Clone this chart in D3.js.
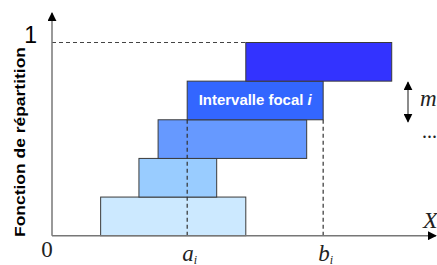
<!DOCTYPE html>
<html>
<head>
<meta charset="utf-8">
<script src="https://cdn.jsdelivr.net/npm/d3@7"></script>
<style>
  body { margin: 0; background: #fff; }
  svg { display: block; }
</style>
</head>
<body>
<div id="chart"></div>
<script>
// focal intervals, bottom to top
const starts = [12.7, 22.7, 27.7, 35.3, 50.6];
const ends = [50.6, 43.0, 66.5, 70.8, 88.7];
const masses = [0.2, 0.2, 0.2, 0.2, 0.2];
const colors = ["#cce9ff", "#99ccff", "#6699ff", "#3366ff", "#3333ff"];
const focalIndex = 3;
const focalLabel = "Intervalle focal ";

const width = 437, height = 265;

const svg = d3.select("#chart")
  .append("svg")
  .attr("width", width)
  .attr("height", height);

const x = d3.scaleLinear().domain([0, 100]).range([52, 435]);
const y = d3.scaleLinear().domain([0, 1]).range([235.7, 42.5]);

let cum = 0;
const bars = starts.map((s, i) => {
  const b = { s: s, e: ends[i], y0: cum, y1: cum + masses[i], c: colors[i] };
  cum += masses[i];
  return b;
});

const defs = svg.append("defs");
defs.append("marker")
  .attr("id", "arr")
  .attr("viewBox", "0 0 10 10")
  .attr("refX", 9).attr("refY", 5)
  .attr("markerWidth", 9).attr("markerHeight", 9)
  .attr("markerUnits", "userSpaceOnUse")
  .attr("orient", "auto-start-reverse")
  .append("path")
  .attr("d", "M0,0 L10,5 L0,10 Z")
  .attr("fill", "#000");

// bars
svg.selectAll("rect.bar")
  .data(bars)
  .enter()
  .append("rect")
  .attr("class", "bar")
  .attr("x", (d) => x(d.s))
  .attr("y", (d) => y(d.y1))
  .attr("width", (d) => x(d.e) - x(d.s))
  .attr("height", (d) => y(d.y0) - y(d.y1))
  .attr("fill", (d) => d.c)
  .attr("stroke", "#3a3a3a")
  .attr("stroke-width", 1);

const f = bars[focalIndex];

// dashed guides
const dash = "4,3";
svg.append("line")
  .attr("x1", x(0)).attr("x2", x(bars[4].s))
  .attr("y1", y(1)).attr("y2", y(1))
  .attr("stroke", "#444").attr("stroke-width", 1.2)
  .attr("stroke-dasharray", dash);

[f.s, f.e].forEach((v) => {
  svg.append("line")
    .attr("x1", x(v)).attr("x2", x(v))
    .attr("y1", y(f.y0)).attr("y2", y(0))
    .attr("stroke", "#333").attr("stroke-width", 1.2)
    .attr("stroke-dasharray", dash);
});

// axes
svg.append("line")
  .attr("x1", x(0)).attr("x2", x(0))
  .attr("y1", y(0)).attr("y2", 13)
  .attr("stroke", "#777").attr("stroke-width", 1.5)
  .attr("marker-end", "url(#arr)");

svg.append("line")
  .attr("x1", x(0)).attr("x2", 436)
  .attr("y1", y(0)).attr("y2", y(0))
  .attr("stroke", "#777").attr("stroke-width", 1.5)
  .attr("marker-end", "url(#arr)");

// focal label
svg.append("text")
  .attr("x", (x(f.s) + x(f.e)) / 2)
  .attr("y", (y(f.y0) + y(f.y1)) / 2 + 5)
  .attr("text-anchor", "middle")
  .attr("fill", "#fff")
  .style("font-family", "Liberation Sans, Arial, sans-serif")
  .style("font-weight", "bold")
  .style("font-size", "15px")
  .attr("textLength", 113)
  .attr("lengthAdjust", "spacingAndGlyphs")
  .text(focalLabel)
  .append("tspan")
  .style("font-style", "italic")
  .text("i");

// axis labels
svg.append("text")
  .attr("x", 37).attr("y", 43)
  .attr("text-anchor", "end")
  .style("font-family", "Liberation Sans, Arial, sans-serif")
  .style("font-size", "23px")
  .text("1");

svg.append("text")
  .attr("x", 47).attr("y", 257)
  .attr("text-anchor", "middle")
  .style("font-family", "Liberation Serif, Times New Roman, serif")
  .style("font-size", "23px")
  .attr("fill", "#222")
  .text("0");

svg.append("text")
  .attr("transform", "translate(25, 142) rotate(-90)")
  .attr("text-anchor", "middle")
  .style("font-family", "Liberation Sans, Arial, sans-serif")
  .style("font-weight", "bold")
  .style("font-size", "14px")
  .attr("textLength", 190)
  .attr("lengthAdjust", "spacingAndGlyphs")
  .text("Fonction de répartition");

svg.append("text")
  .attr("x", 423).attr("y", 228)
  .style("font-family", "Liberation Serif, Times New Roman, serif")
  .style("font-style", "italic")
  .style("font-size", "24px")
  .attr("fill", "#222")
  .text("X");

// a_i, b_i labels
[["a", f.s], ["b", f.e]].forEach(([t, v]) => {
  const lab = svg.append("text")
    .attr("x", x(v) - 5).attr("y", 261)
    .style("font-family", "Liberation Serif, Times New Roman, serif")
    .style("font-style", "italic")
    .style("font-size", "23px")
    .attr("fill", "#222")
    .text(t);
  lab.append("tspan")
    .attr("dy", 3)
    .style("font-size", "12px")
    .text("i");
});

// mass arrow
svg.append("line")
  .attr("x1", 408).attr("x2", 408)
  .attr("y1", y(f.y1) + 1).attr("y2", y(f.y0) + 2)
  .attr("stroke", "#666").attr("stroke-width", 1.5)
  .attr("marker-start", "url(#arr)")
  .attr("marker-end", "url(#arr)");

svg.append("text")
  .attr("x", 420).attr("y", 106)
  .style("font-family", "Liberation Serif, Times New Roman, serif")
  .style("font-style", "italic")
  .style("font-size", "23px")
  .attr("fill", "#222")
  .text("m")
  .append("tspan")
  .attr("dy", 5)
  .style("font-size", "13px")
  .text("i");

svg.append("text")
  .attr("x", 422).attr("y", 138)
  .style("font-family", "Liberation Serif, Times New Roman, serif")
  .style("font-size", "20px")
  .attr("fill", "#222")
  .text("...");
</script>
</body>
</html>
